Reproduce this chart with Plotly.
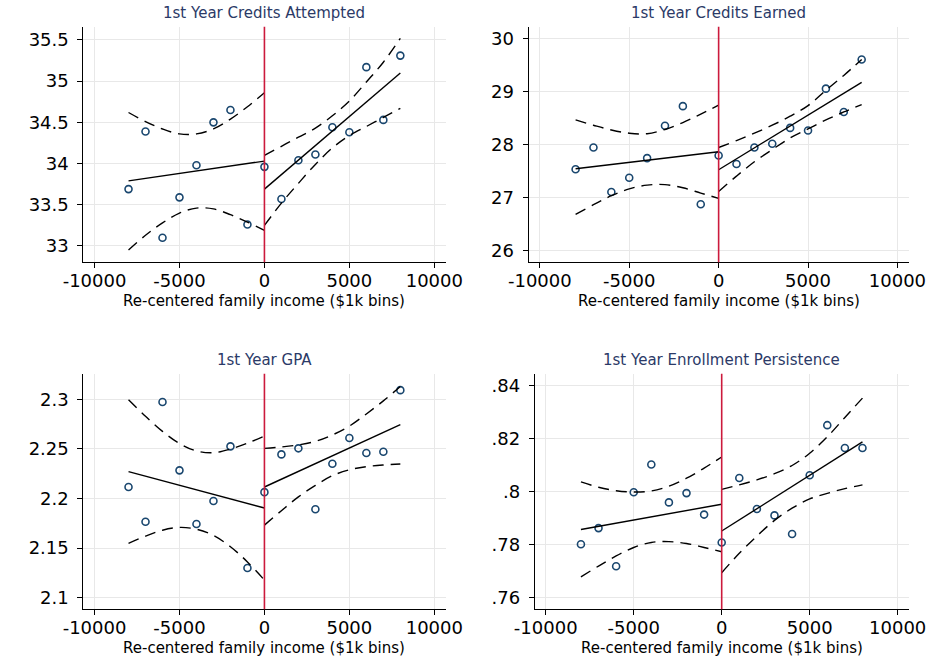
import plotly.graph_objects as go

# Income bins (re-centered, $1k bins)
bins = [-8000, -7000, -6000, -5000, -4000, -3000, -2000, -1000, 0,
        1000, 2000, 3000, 4000, 5000, 6000, 7000, 8000]
bins_left = bins[:9]
bins_right = bins[8:]
fit_x_left = [-8000, 0]
fit_x_right = [0, 8000]

x_tickvals = [-10000, -5000, 0, 5000, 10000]
x_ticktext = ["-10000", "-5000", "0", "5000", "10000"]

# --- 1st Year Credits Attempted ---
attempted_means = [33.69, 34.39, 33.10, 33.59, 33.98, 34.50, 34.65, 33.26, 33.96,
                   33.57, 34.04, 34.11, 34.44, 34.38, 35.17, 34.53, 35.31]
attempted_fit_left = [33.79, 34.03]
attempted_fit_right = [33.69, 35.10]
attempted_ci_up_left = [34.62, 34.51, 34.42, 34.36, 34.36, 34.42, 34.54, 34.69, 34.86]
attempted_ci_lo_left = [32.95, 33.13, 33.28, 33.40, 33.46, 33.45, 33.38, 33.29, 33.19]
attempted_ci_up_right = [34.10, 34.21, 34.32, 34.43, 34.58, 34.76, 34.99, 35.23, 35.52]
attempted_ci_lo_right = [33.25, 33.52, 33.76, 33.99, 34.19, 34.34, 34.45, 34.56, 34.67]
attempted_yticks = [33, 33.5, 34, 34.5, 35, 35.5]
attempted_yticktext = ["33", "33.5", "34", "34.5", "35", "35.5"]

# --- 1st Year Credits Earned ---
earned_means = [27.53, 27.94, 27.10, 27.37, 27.74, 28.35, 28.72, 26.87, 27.79,
                27.63, 27.94, 28.01, 28.31, 28.26, 29.05, 28.61, 29.60]
earned_fit_left = [27.54, 27.86]
earned_fit_right = [27.52, 29.17]
earned_ci_up_left = [28.46, 28.36, 28.27, 28.21, 28.20, 28.28, 28.41, 28.57, 28.74]
earned_ci_lo_left = [26.68, 26.86, 27.03, 27.16, 27.23, 27.24, 27.18, 27.08, 26.98]
earned_ci_up_right = [27.94, 28.07, 28.21, 28.36, 28.53, 28.73, 29.02, 29.30, 29.60]
earned_ci_lo_right = [27.11, 27.40, 27.67, 27.90, 28.12, 28.29, 28.46, 28.61, 28.75]
earned_yticks = [26, 27, 28, 29, 30]
earned_yticktext = ["26", "27", "28", "29", "30"]

# --- 1st Year GPA ---
gpa_means = [2.2116, 2.1765, 2.2973, 2.2284, 2.1743, 2.1975, 2.2526, 2.1299, 2.2064,
             2.2445, 2.2506, 2.1891, 2.2350, 2.2610, 2.2459, 2.2472, 2.3093]
gpa_fit_left = [2.2271, 2.1904]
gpa_fit_right = [2.2116, 2.2745]
gpa_ci_up_left = [2.2995, 2.2829, 2.2677, 2.2555, 2.2479, 2.2462, 2.2499, 2.2558, 2.2630]
gpa_ci_lo_left = [2.1547, 2.1620, 2.1680, 2.1708, 2.1690, 2.1627, 2.1513, 2.1360, 2.1177]
gpa_ci_up_right = [2.2506, 2.2520, 2.2541, 2.2576, 2.2641, 2.2730, 2.2853, 2.2985, 2.3130]
gpa_ci_lo_right = [2.1731, 2.1877, 2.2016, 2.2132, 2.2230, 2.2290, 2.2321, 2.2338, 2.2348]
gpa_yticks = [2.1, 2.15, 2.2, 2.25, 2.3]
gpa_yticktext = ["2.1", "2.15", "2.2", "2.25", "2.3"]

# --- 1st Year Enrollment Persistence ---
persist_means = [0.7801, 0.7862, 0.7718, 0.7997, 0.8102, 0.7959, 0.7994, 0.7913, 0.7808,
                 0.8051, 0.7934, 0.7910, 0.7840, 0.8061, 0.8250, 0.8164, 0.8164]
persist_fit_left = [0.7857, 0.7952]
persist_fit_right = [0.7851, 0.8187]
persist_ci_up_left = [0.8036, 0.8016, 0.8003, 0.7998, 0.8002, 0.8020, 0.8050, 0.8088, 0.8130]
persist_ci_lo_left = [0.7678, 0.7719, 0.7757, 0.7789, 0.7808, 0.7811, 0.7804, 0.7789, 0.7773]
persist_ci_up_right = [0.8008, 0.8025, 0.8044, 0.8067, 0.8098, 0.8144, 0.8206, 0.8279, 0.8352]
persist_ci_lo_right = [0.7694, 0.7767, 0.7832, 0.7891, 0.7937, 0.7972, 0.7993, 0.8011, 0.8025]
persist_yticks = [0.76, 0.78, 0.80, 0.82, 0.84]
persist_yticktext = [".76", ".78", ".8", ".82", ".84"]

titles = ["1st Year Credits Attempted", "1st Year Credits Earned",
          "1st Year GPA", "1st Year Enrollment Persistence"]
x_title = "Re-centered family income ($1k bins)"

W, H = 950, 662
FONT = "DejaVu Sans"
NAVY = "#1a476f"
TITLE_COLOR = "#2b3a67"
CUTOFF_RED = "#cc1a3c"
GRID = "#e8e8e8"


def px_x(p):
    return p / W


def px_y(p):
    return 1 - p / H


panels = [
    dict(title=titles[0], means=attempted_means,
         fit=(attempted_fit_left, attempted_fit_right),
         ci=(attempted_ci_up_left, attempted_ci_lo_left, attempted_ci_up_right, attempted_ci_lo_right),
         yticks=attempted_yticks, yticktext=attempted_yticktext,
         yrange=[32.802, 35.661], xrange=[-10660, 10660],
         xdom=[65.0, 442.7], ydom=[26.7, 262.3]),
    dict(title=titles[1], means=earned_means,
         fit=(earned_fit_left, earned_fit_right),
         ci=(earned_ci_up_left, earned_ci_lo_left, earned_ci_up_right, earned_ci_lo_right),
         yticks=earned_yticks, yticktext=earned_yticktext,
         yrange=[25.774, 30.219], xrange=[-10630, 10630],
         xdom=[529.3, 925.7], ydom=[26.7, 262.3]),
    dict(title=titles[2], means=gpa_means,
         fit=(gpa_fit_left, gpa_fit_right),
         ci=(gpa_ci_up_left, gpa_ci_lo_left, gpa_ci_up_right, gpa_ci_lo_right),
         yticks=gpa_yticks, yticktext=gpa_yticktext,
         yrange=[2.0882, 2.3259], xrange=[-10660, 10660],
         xdom=[65.0, 442.7], ydom=[373.7, 609.3]),
    dict(title=titles[3], means=persist_means,
         fit=(persist_fit_left, persist_fit_right),
         ci=(persist_ci_up_left, persist_ci_lo_left, persist_ci_up_right, persist_ci_lo_right),
         yticks=persist_yticks, yticktext=persist_yticktext,
         yrange=[0.7556, 0.8444], xrange=[-10627, 10627],
         xdom=[535.7, 925.7], ydom=[373.7, 609.3]),
]

fig = go.Figure()
layout = dict(
    width=W, height=H, margin=dict(l=0, r=0, t=0, b=0),
    paper_bgcolor="white", plot_bgcolor="white", showlegend=False,
    font=dict(family=FONT, color="black"),
)
annotations = []
shapes = []

dash_style = "11px,7px"

for i, p in enumerate(panels, start=1):
    sfx = "" if i == 1 else str(i)
    xa, ya = "x" + sfx, "y" + sfx

    # binned means
    fig.add_trace(go.Scatter(
        x=bins, y=p["means"], mode="markers", xaxis=xa, yaxis=ya,
        marker=dict(symbol="circle-open", size=7, color=NAVY, line=dict(width=1.6, color=NAVY)),
        hoverinfo="skip"))

    up_l, lo_l, up_r, lo_r = p["ci"]
    for xs, ys in [(bins_left, up_l), (bins_left, lo_l), (bins_right, up_r), (bins_right, lo_r)]:
        fig.add_trace(go.Scatter(
            x=xs, y=ys, mode="lines", xaxis=xa, yaxis=ya,
            line=dict(color="black", width=1.4, dash=dash_style, shape="spline", smoothing=1.0),
            hoverinfo="skip"))

    fit_l, fit_r = p["fit"]
    for xs, ys in [(fit_x_left, fit_l), (fit_x_right, fit_r)]:
        fig.add_trace(go.Scatter(
            x=xs, y=ys, mode="lines", xaxis=xa, yaxis=ya,
            line=dict(color="black", width=1.4), hoverinfo="skip"))

    axis_common = dict(
        showline=True, linecolor="black", linewidth=1,
        ticks="outside", ticklen=5, tickwidth=1, tickcolor="black",
        showgrid=True, gridcolor=GRID, gridwidth=1, zeroline=False,
        tickfont=dict(family=FONT, size=18, color="black"),
        fixedrange=True,
    )
    layout["xaxis" + sfx] = dict(
        axis_common, domain=[px_x(p["xdom"][0]), px_x(p["xdom"][1])],
        range=p["xrange"], tickvals=x_tickvals, ticktext=x_ticktext,
        anchor=ya, ticklabelstandoff=-3,
    )
    layout["yaxis" + sfx] = dict(
        axis_common, domain=[px_y(p["ydom"][1]), px_y(p["ydom"][0])],
        range=p["yrange"], tickvals=p["yticks"], ticktext=p["yticktext"],
        anchor=xa, ticklabelstandoff=5,
    )

    # cutoff line at zero
    shapes.append(dict(
        type="line", xref=xa, x0=0, x1=0, yref=ya + " domain", y0=0, y1=1,
        line=dict(color=CUTOFF_RED, width=1.6), layer="above"))

    xmid = (p["xdom"][0] + p["xdom"][1]) / 2
    # panel title
    annotations.append(dict(
        text=p["title"], x=px_x(xmid), y=px_y(p["ydom"][0] - 13.5),
        xref="paper", yref="paper", xanchor="center", yanchor="middle",
        showarrow=False, font=dict(family=FONT, size=15, color=TITLE_COLOR)))
    # x axis title
    annotations.append(dict(
        text=x_title, x=px_x(xmid), y=px_y(p["ydom"][1] + 38.5),
        xref="paper", yref="paper", xanchor="center", yanchor="middle",
        showarrow=False, font=dict(family=FONT, size=15, color="black")))

layout["annotations"] = annotations
layout["shapes"] = shapes
fig.update_layout(**layout)

fig.write_html("out.html")
